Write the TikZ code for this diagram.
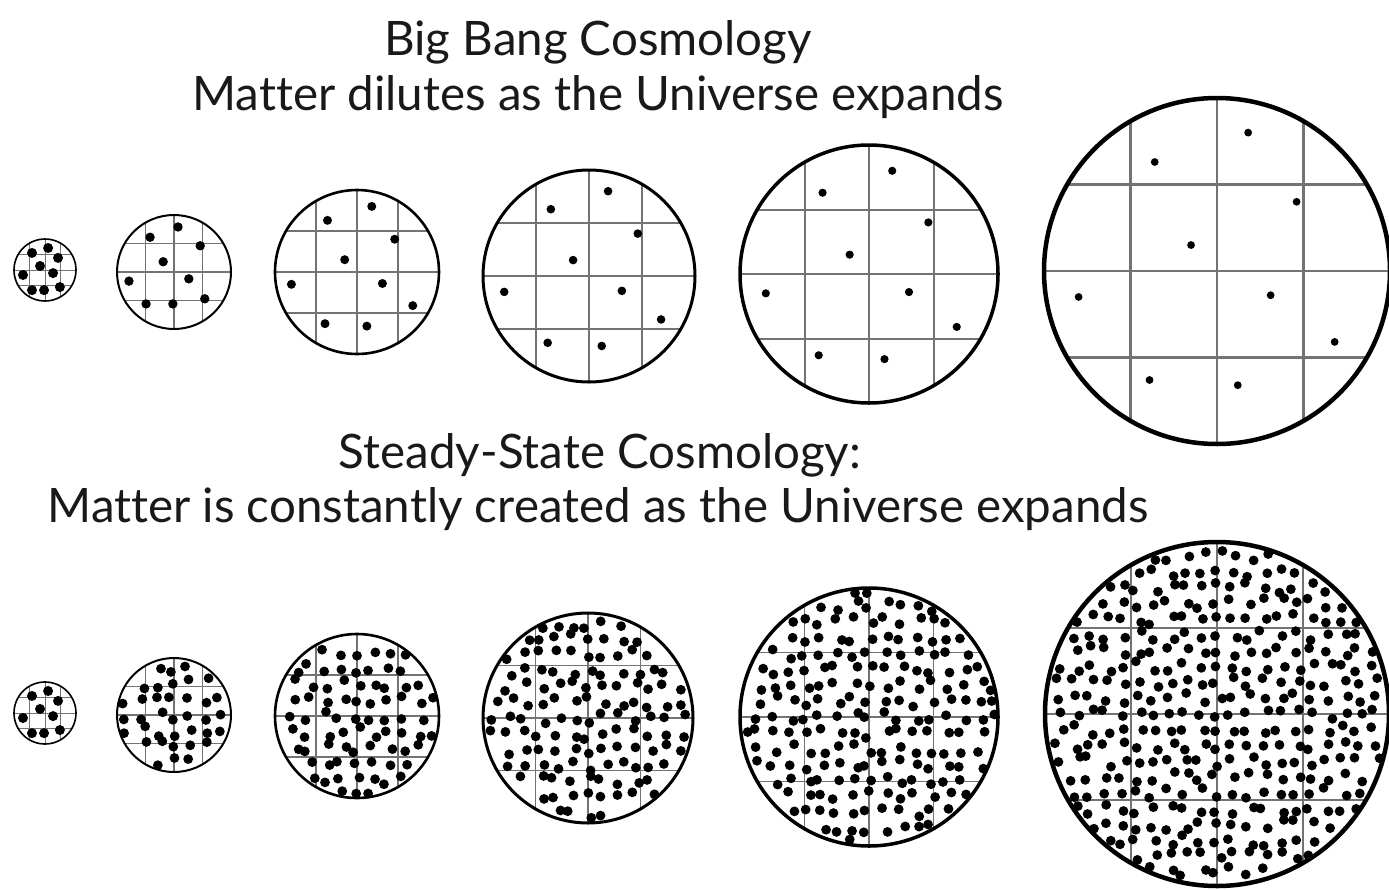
\documentclass[tikz,border=0pt]{standalone}
\usepackage{fontspec}
\setmainfont{Lato}[Ligatures={NoCommon}]
\tikzset{
  gridline/.style={draw=black!55},
  rim/.style={draw=black},
  dot/.style={fill=black},
  title/.style={font=\fontsize{47.5}{56}\selectfont, text=black!90, inner sep=0pt, anchor=base}
}
% cx cy r gridwidth
\newcommand\univgrid[4]{%
  \begin{scope}
    \clip (#1,#2) circle[radius=#3pt];
    \draw[gridline, line width=#4pt] (#1-0.5*#3,#2-#3) -- (#1-0.5*#3,#2+#3);
    \draw[gridline, line width=#4pt] (#1,#2-#3) -- (#1,#2+#3);
    \draw[gridline, line width=#4pt] (#1+0.5*#3,#2-#3) -- (#1+0.5*#3,#2+#3);
    \draw[gridline, line width=#4pt] (#1-#3,#2-0.5*#3) -- (#1+#3,#2-0.5*#3);
    \draw[gridline, line width=#4pt] (#1-#3,#2) -- (#1+#3,#2);
    \draw[gridline, line width=#4pt] (#1-#3,#2+0.5*#3) -- (#1+#3,#2+0.5*#3);
  \end{scope}
}
\newcommand\univrim[4]{\draw[rim, line width=#4pt] (#1,#2) circle[radius=#3pt];}
% cx cy r dotradius pattern
\newcommand\bbdots[5]{%
  \foreach \u/\v in #5 {\fill[dot] (#1+\u*#3,#2+\v*#3) circle[radius=#4pt];}%
}
% steady state dots: cx cy r
\newcommand\ssdots[3]{%
  \pgfmathtruncatemacro\nn{ceil(#3/15.8)}%
  \foreach \i in {-\nn,...,\nn}{%
    \foreach \j in {-\nn,...,\nn}{%
      \pgfmathsetmacro\px{\i*15.8+5.4*rand}%
      \pgfmathsetmacro\py{\j*15.8+5.4*rand}%
      \pgfmathsetmacro\dd{veclen(\px,\py)}%
      \pgfmathtruncatemacro\inside{\dd<(#3-3.5)}%
      \ifnum\inside=1 \fill[dot] (#1+\px,#2+\py) circle[radius=4.9pt];\fi
    }%
  }%
}
\def\patA{-0.42/-0.55,0.10/-0.71,0.42/-0.39,-0.16/-0.13,-0.71/0.16,0.26/0.10,-0.42/0.65,-0.03/0.65,0.48/0.55}
\def\patB{-0.42/-0.61,0.07/-0.79,0.46/-0.46,-0.19/-0.18,-0.79/0.16,0.26/0.12,0.54/0.47,-0.49/0.56,-0.02/0.56}
\def\patC{-0.36/-0.63,0.18/-0.80,0.46/-0.40,-0.15/-0.15,-0.80/0.15,0.31/0.14,0.68/0.41,-0.39/0.63,0.12/0.66}
\begin{document}
\begin{tikzpicture}[x=1pt,y=-1pt]
\useasboundingbox (0,0) rectangle (1389,889);
\fill[white] (0,0) rectangle (1389,889);
\pgfmathsetseed{7}
% titles
\node[title] (bbtitle) at (598,55) {Big Bang Cosmology};
\node[title] (bbsub) at (598,110) {Matter dilutes as the Universe expands};
\node[title] (sstitle) at (600,468) {Steady-State Cosmology:};
\node[title] (sssub) at (598,522) {Matter is constantly created as the Universe expands};
% Big Bang row
\univgrid{45}{270}{31}{0.7}\bbdots{45}{270}{31}{5}{\patA}\univrim{45}{270}{31}{1.6}
\univgrid{174}{272}{57}{1.1}\bbdots{174}{272}{57}{4.7}{\patB}\univrim{174}{272}{57}{2}
\univgrid{357}{272}{82}{1.4}\bbdots{357}{272}{82}{4.5}{\patC}\univrim{357}{272}{82}{2.6}
\univgrid{589}{276}{106}{1.7}\bbdots{589}{276}{106}{4.3}{\patC}\univrim{589}{276}{106}{3}
\univgrid{869}{274}{129}{2}\bbdots{869}{274}{129}{4.1}{\patC}\univrim{869}{274}{129}{3.5}
\univgrid{1217}{271}{173}{2.4}\bbdots{1217}{271}{173}{3.9}{\patC}\univrim{1217}{271}{173}{4.5}
% Steady State row
\univgrid{45}{713}{31}{0.7}\bbdots{45}{713}{31}{5}{\patA}\univrim{45}{713}{31}{1.6}
\univgrid{174}{715}{57}{1.1}\ssdots{174}{715}{57}\univrim{174}{715}{57}{2}
\univgrid{357}{716}{82}{1.3}\ssdots{357}{716}{82}\univrim{357}{716}{82}{2.6}
\univgrid{588}{718}{105}{1.5}\ssdots{588}{718}{105}\univrim{588}{718}{105}{3}
\univgrid{869}{717}{129}{1.8}\ssdots{869}{717}{129}\univrim{869}{717}{129}{3.5}
\univgrid{1217}{714}{172}{2.2}\ssdots{1217}{714}{172}\univrim{1217}{714}{172}{4.5}
\end{tikzpicture}
\end{document}
